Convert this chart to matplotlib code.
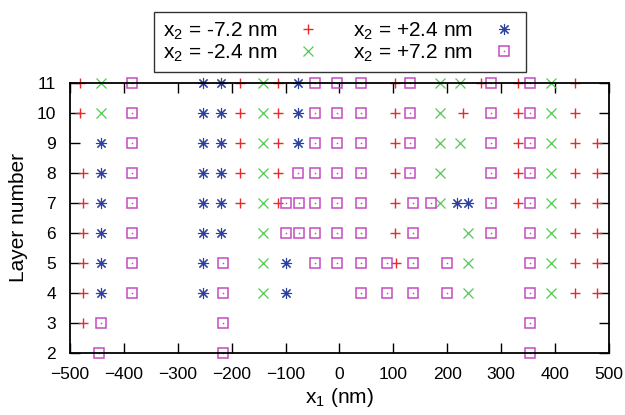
import matplotlib
matplotlib.use('Agg')
import matplotlib.pyplot as plt
from matplotlib.legend_handler import HandlerTuple

plt.rcParams['font.family'] = ['Liberation Sans', 'DejaVu Sans']
plt.rcParams['mathtext.fontset'] = 'custom'
plt.rcParams['mathtext.rm'] = 'Liberation Sans'
plt.rcParams['mathtext.it'] = 'Liberation Sans'

# x1 positions (nm) and layer numbers, one list pair per x2
red_x = [-481, -185, -113, 103, 263, 331, 437,
         -481, -185, -113, 103, 229, 331, 437,
         -185, -113, 103, 331, 437, 479,
         -476, -185, -113, 103, 331, 437, 479,
         -476, -185, -114, 103, 331, 437, 479,
         -476, 103, 437, 479,
         -476, 105, 437, 479,
         -476, 437, 479,
         -476]
red_y = [11]*7 + [10]*7 + [9]*6 + [8]*7 + [7]*7 + [6]*4 + [5]*4 + [4]*3 + [3]

green_x = [-442, -142, 186, 224, 393,
           -442, -142, 186, 393,
           -142, 186, 224, 393,
           -142, 186, 393,
           -142, 187, 393,
           -142, 238, 393,
           -142, 238, 393,
           -142, 238, 393]
green_y = [11]*5 + [10]*4 + [9]*4 + [8]*3 + [7]*3 + [6]*3 + [5]*3 + [4]*3

blue_x = [-254, -220, -77,
          -254, -220, -77,
          -442, -254, -220, -77,
          -442, -254, -220,
          -442, -254, -220, 219, 238,
          -442, -254, -220,
          -442, -254, -99,
          -442, -254, -99]
blue_y = [11]*3 + [10]*3 + [9]*4 + [8]*3 + [7]*5 + [6]*3 + [5]*3 + [4]*3

mag_x = [-385, -46, -4, 41, 132, 282, 354,
         -385, -46, -4, 41, 132, 282, 354,
         -385, -46, -4, 41, 132, 282, 354,
         -385, -77, -46, -4, 41, 132, 282, 354,
         -385, -99, -75, -46, -4, 41, 137, 170, 282, 354,
         -385, -99, -75, -46, -4, 41, 137, 282, 354,
         -385, -216, -46, -4, 41, 88, 137, 199, 354,
         -385, -216, 41, 88, 137, 199, 354,
         -442, -216, 354,
         -447, -216, 354]
mag_y = [11]*7 + [10]*7 + [9]*7 + [8]*8 + [7]*10 + [6]*9 + [5]*9 + [4]*7 + [3]*3 + [2]*3

labels = [r'x$_2$ = -7.2 nm', r'x$_2$ = -2.4 nm', r'x$_2$ = +2.4 nm', r'x$_2$ = +7.2 nm']

red = '#e82a2a'
green = '#55c855'
blue = '#2a40a0'
mag = '#c44cc0'

fig = plt.figure(figsize=(6.25, 4.15), dpi=100)
ax = fig.add_axes([0.112, 0.150, 0.862, 0.651])

h1, = ax.plot(red_x, red_y, ls='none', marker='+', ms=7.5, mew=1.0, color=red, clip_on=False)
h2, = ax.plot(green_x, green_y, ls='none', marker='x', ms=6.5, mew=0.9, color=green, clip_on=False)
h3, = ax.plot(blue_x, blue_y, ls='none', marker=(8, 2, 0), ms=8, mew=0.8, color=blue, clip_on=False)
h4, = ax.plot(mag_x, mag_y, ls='none', marker='s', ms=7.5, mew=1.1, mfc='none', mec=mag, clip_on=False)
h4d, = ax.plot(mag_x, mag_y, ls='none', marker='o', ms=1.2, mew=0, color=mag, clip_on=False)

ax.set_xlim(-500, 500)
ax.set_ylim(2, 11)
ax.set_xticks(range(-500, 501, 100))
ax.set_yticks(range(2, 12))
ax.tick_params(direction='in', length=7, width=1, top=True, right=True, labelsize=12.5)
ax.tick_params(axis='x', pad=10)
ax.tick_params(axis='y', pad=10)
for s in ax.spines.values():
    s.set_linewidth(1.3)
ax.set_xlabel(r'x$_1$ (nm)', fontsize=15, labelpad=3)
ax.set_ylabel('Layer number', fontsize=15, labelpad=6)

leg = fig.legend([h1, h2, h3, (h4, h4d)], labels, ncol=2, markerfirst=False,
                 loc='upper center', bbox_to_anchor=(0.544, 0.972), borderaxespad=0,
                 fontsize=15, frameon=True, fancybox=False, edgecolor='black',
                 handlelength=1.3, handletextpad=0.84, columnspacing=1.5,
                 labelspacing=0.03, borderpad=0.42,
                 handler_map={tuple: HandlerTuple(ndivide=1, pad=0)})
leg.get_frame().set_linewidth(1.0)

fig.savefig('out.png', dpi=100)
